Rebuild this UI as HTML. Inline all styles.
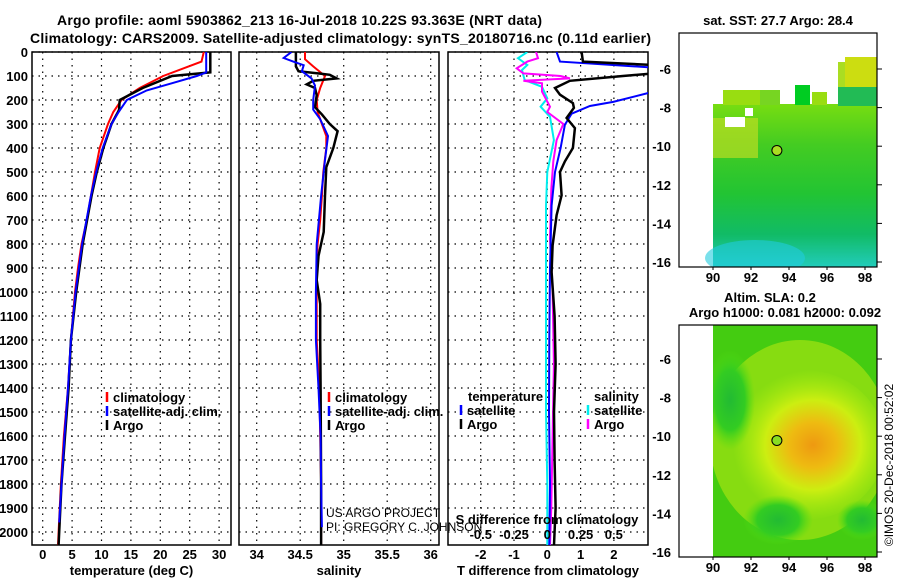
<!DOCTYPE html>
<html><head><meta charset="utf-8"><style>
html,body{margin:0;padding:0;background:#fff}
svg{display:block;font-family:"Liberation Sans",sans-serif;font-weight:bold}
</style></head><body>
<svg id="c" width="900" height="580" viewBox="0 0 900 580">
<defs>
<linearGradient id="sstg" x1="0" y1="0" x2="0" y2="1">
<stop offset="0" stop-color="#77dd11"/><stop offset="0.25" stop-color="#44cc22"/><stop offset="0.55" stop-color="#22c433"/><stop offset="0.8" stop-color="#11bb66"/><stop offset="1" stop-color="#22ccbb"/>
</linearGradient>
<radialGradient id="slaw" cx="0.55" cy="0.5" r="0.5">
<stop offset="0" stop-color="#ee9911"/><stop offset="0.3" stop-color="#eebb11"/><stop offset="0.6" stop-color="#ccee11"/><stop offset="1" stop-color="#aaee11" stop-opacity="0"/>
</radialGradient>
<radialGradient id="slag" cx="0.5" cy="0.5" r="0.5">
<stop offset="0" stop-color="#22bb33"/><stop offset="0.6" stop-color="#33cc22"/><stop offset="1" stop-color="#55dd11" stop-opacity="0"/>
</radialGradient>
<clipPath id="m2clip"><rect x="713" y="325" width="164" height="232"/></clipPath>
<clipPath id="m1clip"><rect x="679" y="33" width="198" height="234"/></clipPath>
</defs>
<g id="titles">
<text x="57" y="25" font-size="14" textLength="485">Argo profile: aoml 5903862_213 16-Jul-2018 10.22S 93.363E (NRT data)</text>
<text x="30" y="43" font-size="14" textLength="621">Climatology: CARS2009. Satellite-adjusted climatology: synTS_20180716.nc (0.11d earlier)</text>
<text x="778" y="25" font-size="13" text-anchor="middle">sat. SST: 27.7 Argo: 28.4</text>
<text x="770" y="302" font-size="13" text-anchor="middle">Altim. SLA: 0.2</text>
<text x="785" y="317" font-size="13" text-anchor="middle">Argo h1000: 0.081 h2000: 0.092</text>
<text transform="translate(893,465) rotate(-90)" font-size="12" font-weight="normal" text-anchor="middle">©IMOS 20-Dec-2018 00:52:02</text>
</g>
<g id="plots"></g>
</svg>
<script>
// ---- data ----
const tDepthClim = [0,40,100,150,200,250,300,400,500,600,700,800,900,1000,1200,1400,1600,1800,2000,2054];
const tClim      = [27.4,27.0,20.5,16.5,13.4,12.0,11.1,9.7,8.9,8.2,7.5,6.6,6.0,5.5,4.8,4.3,3.6,3.1,2.7,2.6];
const tDepthArgo = [0,85,100,150,200,240,250,300,400,500,600,800,1000,1200,1400,1600,1800,2000,2054];
const tArgo      = [28.5,28.5,22,17,13.1,13.0,12.8,11.7,10.3,9.2,8.3,6.8,5.7,4.8,4.4,3.8,3.2,2.8,2.7];
const tDepthSat  = [0,85,100,130,160,200,250,300,400,500,600,800,1000,1200,1400,1600,1800,1960];
const tSat       = [27.8,27.8,26.2,22,17.7,14.3,12.9,11.7,10.2,9.1,8.2,6.7,5.6,4.8,4.3,3.7,3.2,2.8];

const sDepthClim = [0,30,60,100,150,200,250,300,350,400,500,600,700,800,900,1000,1200,1400,1600,1800,2054];
const sClim      = [34.555,34.555,34.65,34.785,34.73,34.69,34.70,34.75,34.80,34.80,34.765,34.75,34.73,34.70,34.69,34.69,34.69,34.72,34.73,34.74,34.74];
const sDepthArgo = [0,60,80,90,95,110,120,135,150,180,230,260,300,330,400,480,600,750,850,950,1050,1200,1400,1800,2054];
const sArgo      = [34.45,34.45,34.48,34.73,34.84,34.92,34.65,34.575,34.67,34.69,34.67,34.75,34.84,34.93,34.88,34.80,34.785,34.77,34.71,34.69,34.73,34.73,34.735,34.74,34.74];
const sDepthSat  = [0,25,40,55,80,110,140,200,240,280,350,450,600,800,1000,1200,1400,1600,1800,1980];
const sSat       = [34.40,34.31,34.42,34.54,34.52,34.63,34.67,34.65,34.65,34.73,34.82,34.785,34.74,34.69,34.68,34.68,34.71,34.735,34.74,34.75];

const dDepthT = [0,40,65,165,208,225,257,303,400,500,640,900,1200,1500,1800,2054];
const dTSat   = [0.28,0.38,3.2,3.2,1.98,1.28,0.73,0.53,0.40,0.23,0.13,0.08,0.06,0.05,0.08,0.06];
const dDepthTA = [0,40,54,89,100,120,150,178,213,233,275,317,400,456,500,597,680,806,917,1100,1300,1500,1700,1900,2054];
const dTArgo   = [1.03,1.07,3.2,3.2,2.27,0.68,0.23,0.38,0.77,0.80,0.58,0.83,0.77,0.53,0.38,0.43,0.28,0.16,0.13,0.22,0.25,0.2,0.22,0.25,0.2];
const dDepthS = [0,26,40,68,89,100,110,120,130,165,228,250,300,367,456,570,778,1000,1300,1600,1900,2054];
const dSArgo  = [-0.085,-0.07,-0.15,-0.23,-0.18,0.10,0.17,-0.18,-0.04,-0.04,0.02,0.0,0.12,0.07,0.045,0.03,0.02,0.04,0.05,0.04,0.03,0.02];
const dDepthSS = [0,26,54,75,117,145,193,228,270,367,500,640,900,1200,1500,1800,2054];
const dSSat    = [-0.15,-0.22,-0.15,-0.19,-0.17,-0.04,0.0,-0.05,0.02,0.05,0.0,-0.01,-0.01,-0.01,-0.01,0.0,0.0];

const tTicks = [0,5,10,15,20,25,30];
const sTicks = [34,34.5,35,35.5,36];
const dTTicks = [-2,-1,0,1,2];
const dSTicks = [-0.5,-0.25,0,0.25,0.5];
const depthTicks = [0,100,200,300,400,500,600,700,800,900,1000,1100,1200,1300,1400,1500,1600,1700,1800,1900,2000];
const latTicks = [-6,-8,-10,-12,-14,-16];
const lonTicks = [90,92,94,96,98];
const argoLat = -10.22, argoLon = 93.363;

// ---- scales ----
const TOP=52, BOT=545;
const yD = d => TOP + d*0.24;
const xT = t => 42.7 + t*5.88;
const xS = s => 256.7 + (s-34)*87;
const xDT = v => 547.3 + v*33.3;
const xDS = v => 547.3 + v*133;
const mapLon = v => 713 + (v-90)*19;
const map1Lat = v => 69 + (-6 - v)*19.3;
const map2Lat = v => 359 + (-6 - v)*19.3;

const NS='http://www.w3.org/2000/svg';
const root=document.getElementById('plots');
function mk(tag, attrs, parent){const e=document.createElementNS(NS,tag);for(const k in attrs)e.setAttribute(k,attrs[k]);(parent||root).appendChild(e);return e;}
function txt(x,y,s,size,anchor,parent,weight){const e=mk('text',{x:x,y:y,'font-size':size,'text-anchor':anchor||'start'},parent);if(weight)e.setAttribute('font-weight',weight);e.textContent=s;return e;}

function panel(name,x0,x1,vTicks,xf,labels,title,clipId){
  const g=mk('g',{});
  
  
  const cp=mk('clipPath',{id:clipId},g);
  mk('rect',{x:x0,y:TOP,width:x1-x0,height:BOT-TOP},cp);
  depthTicks.forEach(d=>{const l=mk('line',{x1:x0,x2:x1,y1:yD(d),y2:yD(d),stroke:'#000','stroke-width':1.2,'stroke-dasharray':'1.5 5'},g);
    
    });
  vTicks.forEach((v,i)=>{const l=mk('line',{x1:xf(v),x2:xf(v),y1:TOP,y2:BOT,stroke:'#000','stroke-width':1.2,'stroke-dasharray':'1.5 5'},g);
    
    
    if(labels){const t=txt(xf(v),559,labels[i],13,'middle',g);
    
    }});
  const f=mk('rect',{x:x0,y:TOP,width:x1-x0,height:BOT-TOP,fill:'none',stroke:'#000','stroke-width':1.5},g);
  
  
  const tt=txt((x0+x1)/2,575,title,13,'middle',g);
  
  
  return g;
}
function series(g,depths,vals,xf,color,w,name,clip){
  const pts=depths.map((d,i)=>xf(vals[i]).toFixed(1)+','+yD(d).toFixed(1)).join(' ');
  const p=mk('polyline',{points:pts,fill:'none',stroke:color,'stroke-width':w,'stroke-linejoin':'miter','clip-path':'url(#'+clip+')'},g);
  
  
}
function legend(g,x,y,color,label){
  const m=mk('line',{x1:x,x2:x,y1:y-10,y2:y,stroke:color,'stroke-width':2.5},g);
  
  
  const t=txt(x+6,y,label,13,'start',g);
  
  
}

depthTicks.forEach(d=>{const t=txt(28,yD(d)+5,String(d),13,'end');
  
  });

const g1=panel('temperature-panel',32,231,tTicks,xT,tTicks.map(String),'temperature (deg C)','cp1');
series(g1,tDepthClim,tClim,xT,'#ff0000',2,'temperature-climatology-line','cp1');
series(g1,tDepthArgo,tArgo,xT,'#000000',2.5,'temperature-argo-line','cp1');
series(g1,tDepthSat,tSat,xT,'#0000ff',2,'temperature-satellite-line','cp1');
legend(g1,107,402,'#ff0000','climatology');
legend(g1,107,416,'#0000ff','satellite-adj. clim.');
legend(g1,107,430,'#000000','Argo');

const g2=panel('salinity-panel',239,439,sTicks,xS,sTicks.map(String),'salinity','cp2');
series(g2,sDepthClim,sClim,xS,'#ff0000',2,'salinity-climatology-line','cp2');
series(g2,sDepthArgo,sArgo,xS,'#000000',2.5,'salinity-argo-line','cp2');
series(g2,sDepthSat,sSat,xS,'#0000ff',2,'salinity-satellite-line','cp2');
legend(g2,329,402,'#ff0000','climatology');
legend(g2,329,416,'#0000ff','satellite-adj. clim.');
legend(g2,329,430,'#000000','Argo');

const g3=panel('difference-panel',448,648,dTTicks,xDT,dTTicks.map(String),'T difference from climatology','cp3');
series(g3,dDepthSS,dSSat,xDS,'#00eeee',2,'salinity-satellite-diff-line','cp3');
series(g3,dDepthS,dSArgo,xDS,'#ff00ff',2,'salinity-argo-diff-line','cp3');
series(g3,dDepthT,dTSat,xDT,'#0000ff',2,'temperature-satellite-diff-line','cp3');
series(g3,dDepthTA,dTArgo,xDT,'#000000',2.5,'temperature-argo-diff-line','cp3');
dSTicks.forEach(v=>{const t=txt(xDS(v),539,String(v),13,'middle',g3);
  
  });
{const t=txt(547,524,'S difference from climatology',13,'middle',g3);
 
 }
{const t=txt(468,401,'temperature',13,'start',g3);
 
 
 const t2=txt(594,401,'salinity',13,'start',g3);
 
 }
legend(g3,461,415,'#0000ff','satellite');
legend(g3,461,429,'#000000','Argo');
legend(g3,588,415,'#00eeee','satellite');
legend(g3,588,429,'#ff00ff','Argo');

{const t=txt(326,517,'US ARGO PROJECT',12,'start',null,'normal');
 
 
 const t2=txt(326,531,'PI: GREGORY C. JOHNSON',12,'start',null,'normal');
 
 }

function mapAxes(g,top,bot,latf){
  const f=mk('rect',{x:679,y:top,width:198,height:bot-top,fill:'none',stroke:'#000','stroke-width':1.2},g);
  
  
  latTicks.forEach(v=>{const t=txt(671,latf(v)+5,String(v),13,'end',g);
    
    
    mk('line',{x1:877,x2:882,y1:latf(v),y2:latf(v),stroke:'#000'},g);});
  lonTicks.forEach(v=>{const t=txt(mapLon(v),bot+15,String(v),13,'middle',g);
    
    
    mk('line',{x1:mapLon(v),x2:mapLon(v),y1:bot,y2:bot+3,stroke:'#000'},g);});
}
const m1=mk('g',{});


const m1d=mk('g',{'clip-path':'url(#m1clip)'},m1);
mk('rect',{x:713,y:104,width:164,height:163,fill:'url(#sstg)'},m1d);
mk('rect',{x:713,y:118,width:45,height:40,fill:'#bbdd22',opacity:0.7},m1d);
mk('rect',{x:723,y:90,width:40,height:15,fill:'#99dd11'},m1d);
mk('rect',{x:760,y:90,width:20,height:15,fill:'#77d522'},m1d);
mk('rect',{x:795,y:85,width:15,height:20,fill:'#00cc22'},m1d);
mk('rect',{x:812,y:92,width:15,height:13,fill:'#99dd11'},m1d);
mk('rect',{x:838,y:86,width:39,height:20,fill:'#22bb55'},m1d);
mk('rect',{x:838,y:62,width:18,height:25,fill:'#aadd22'},m1d);
mk('rect',{x:845,y:57,width:32,height:30,fill:'#ccdd11'},m1d);
mk('rect',{x:725,y:117,width:20,height:10,fill:'#fff'},m1d);
mk('rect',{x:745,y:108,width:8,height:8,fill:'#fff'},m1d);
mk('ellipse',{cx:755,cy:258,rx:50,ry:18,fill:'#22ccdd',opacity:0.6},m1d);
mapAxes(m1,33,267,map1Lat);
{const c=mk('circle',{cx:mapLon(argoLon),cy:map1Lat(argoLat),r:5,fill:'#aadd22',stroke:'#000','stroke-width':1},m1);
 
 }

const m2=mk('g',{});


const m2d=mk('g',{'clip-path':'url(#m2clip)'},m2);
mk('rect',{x:713,y:325,width:164,height:232,fill:'#44cc11'},m2d);
mk('ellipse',{cx:800,cy:440,rx:90,ry:100,fill:'#99e011',opacity:0.8},m2d);
mk('ellipse',{cx:805,cy:445,rx:80,ry:75,fill:'url(#slaw)'},m2d);
mk('ellipse',{cx:778,cy:520,rx:35,ry:25,fill:'url(#slag)'},m2d);
mk('ellipse',{cx:862,cy:520,rx:25,ry:20,fill:'url(#slag)'},m2d);
mk('ellipse',{cx:730,cy:400,rx:25,ry:50,fill:'url(#slag)'},m2d);
mapAxes(m2,325,557,map2Lat);
{const c=mk('circle',{cx:mapLon(argoLon),cy:map2Lat(argoLat),r:5,fill:'#88dd22',stroke:'#000','stroke-width':1},m2);
 
 }
</script>
</body></html>
